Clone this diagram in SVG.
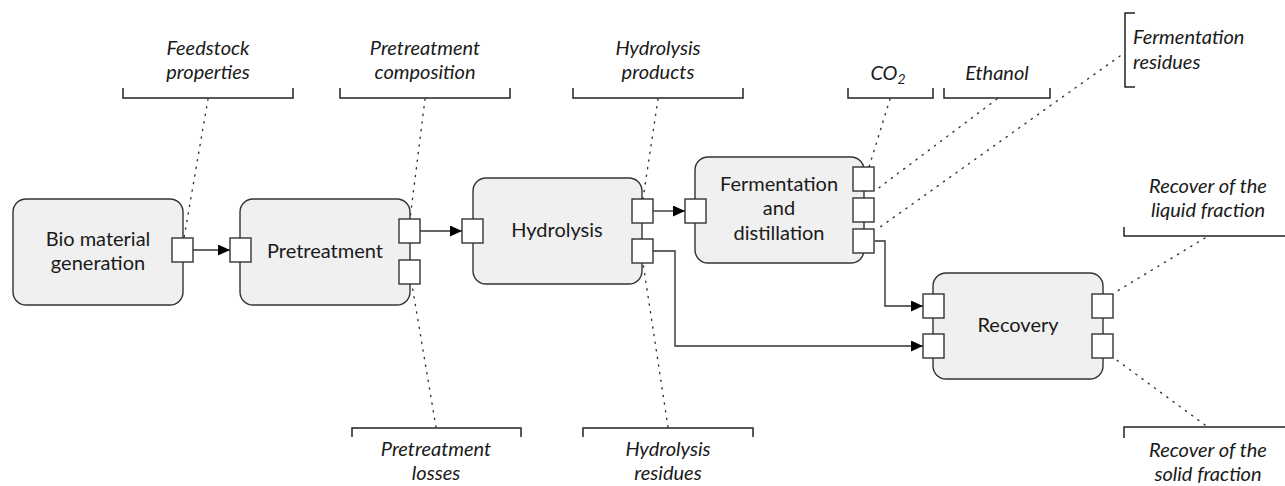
<svg xmlns="http://www.w3.org/2000/svg" width="1285" height="486" viewBox="0 0 1285 486">
<style>
text{font-family:Lato,"Liberation Sans",sans-serif;font-size:20px;fill:#1a1a1a}
.lbl{font-style:italic;text-anchor:middle}
.ll{font-style:italic;text-anchor:start}
.nt{text-anchor:middle}
.box{fill:#f0f0f0;stroke:#333;stroke-width:1.4}
.port{fill:#fff;stroke:#333;stroke-width:1.4}
.br{fill:none;stroke:#222;stroke-width:1.5}
.dot{fill:none;stroke:#333;stroke-width:1.4;stroke-dasharray:1.2 6.5;stroke-linecap:round}
.con{fill:none;stroke:#333;stroke-width:1.4}
</style>
<defs>
<marker id="arr" viewBox="0 0 12 11" refX="12" refY="5.5" markerWidth="12" markerHeight="11" markerUnits="userSpaceOnUse" orient="auto">
<path d="M0,0 L12,5.5 L0,11 Z" fill="#000"/>
</marker>
</defs>

<g id="annotations">
<g id="feedstock">
<text class="lbl" x="208" y="55">Feedstock</text>
<text class="lbl" x="208" y="79">properties</text>
<path class="br" d="M123 88 V98 H293 V88"/>
<path class="dot" d="M208 99 L184 238"/>
</g>
<g id="pretreat-comp">
<text class="lbl" x="425" y="55">Pretreatment</text>
<text class="lbl" x="425" y="79">composition</text>
<path class="br" d="M340 88 V98 H510 V88"/>
<path class="dot" d="M425 99 L410 219"/>
</g>
<g id="hydro-prod">
<text class="lbl" x="658" y="55">Hydrolysis</text>
<text class="lbl" x="658" y="79">products</text>
<path class="br" d="M573 88 V98 H743 V88"/>
<path class="dot" d="M658 99 L643 199"/>
</g>
<g id="co2">
<text class="lbl" x="888" y="80">CO<tspan font-size="14" dy="4">2</tspan></text>
<path class="br" d="M848 88 V98 H933 V88"/>
<path class="dot" d="M890 99 L869 167"/>
</g>
<g id="ethanol">
<text class="lbl" x="997" y="80">Ethanol</text>
<path class="br" d="M944 88 V98 H1050 V88"/>
<path class="dot" d="M997 99 L876 190"/>
</g>
<g id="ferm-res">
<text class="ll" x="1133" y="44">Fermentation</text>
<text class="ll" x="1133" y="69">residues</text>
<path class="br" d="M1135 13 H1125 V87 H1135"/>
<path class="dot" d="M1120 56 L876 230"/>
</g>
<g id="liquid">
<text class="lbl" x="1208" y="193">Recover of the</text>
<text class="lbl" x="1208" y="217">liquid fraction</text>
<path class="br" d="M1124 227 V236 H1290"/>
<path class="dot" d="M1205 238 L1114 293"/>
</g>
<g id="solid">
<text class="lbl" x="1208" y="457">Recover of the</text>
<text class="lbl" x="1208" y="481">solid fraction</text>
<path class="br" d="M1124 438 V427 H1290"/>
<path class="dot" d="M1205 425 L1114 358"/>
</g>
<g id="pretreat-loss">
<text class="lbl" x="436" y="456">Pretreatment</text>
<text class="lbl" x="436" y="480">losses</text>
<path class="br" d="M352 437 V428 H521 V437"/>
<path class="dot" d="M436 427 L412 285"/>
</g>
<g id="hydro-res">
<text class="lbl" x="668" y="456">Hydrolysis</text>
<text class="lbl" x="668" y="480">residues</text>
<path class="br" d="M583 437 V428 H753 V437"/>
<path class="dot" d="M668 427 L643 263"/>
</g>
</g>

<g id="connectors">
<path class="con" d="M193 250 H230" marker-end="url(#arr)"/>
<path class="con" d="M420 231 H462" marker-end="url(#arr)"/>
<path class="con" d="M653 211 H685" marker-end="url(#arr)"/>
<path class="con" d="M875 241 H885 V306 H923" marker-end="url(#arr)"/>
<path class="con" d="M653 251 H675 V346 H923" marker-end="url(#arr)"/>
</g>

<g id="bio">
<rect class="box" x="13" y="199" width="170" height="106" rx="13"/>
<text class="nt" x="98" y="246">Bio material</text>
<text class="nt" x="98" y="270">generation</text>
<rect class="port" x="172" y="238" width="21" height="24"/>
</g>
<g id="pretreatment">
<rect class="box" x="240" y="199" width="170" height="106" rx="13"/>
<text class="nt" x="325" y="258">Pretreatment</text>
<rect class="port" x="230" y="238" width="21" height="24"/>
<rect class="port" x="399" y="219" width="21" height="24"/>
<rect class="port" x="399" y="260" width="21" height="24"/>
</g>
<g id="hydrolysis">
<rect class="box" x="473" y="178" width="169" height="106" rx="13"/>
<text class="nt" x="557" y="237">Hydrolysis</text>
<rect class="port" x="462" y="219" width="21" height="24"/>
<rect class="port" x="632" y="199" width="21" height="24"/>
<rect class="port" x="632" y="239" width="21" height="24"/>
</g>
<g id="fermentation">
<rect class="box" x="695" y="157" width="169" height="106" rx="13"/>
<text class="nt" x="779" y="191">Fermentation</text>
<text class="nt" x="779" y="215">and</text>
<text class="nt" x="779" y="240">distillation</text>
<rect class="port" x="685" y="199" width="21" height="24"/>
<rect class="port" x="853" y="167" width="21" height="24"/>
<rect class="port" x="853" y="198" width="21" height="24"/>
<rect class="port" x="853" y="229" width="21" height="24"/>
</g>
<g id="recovery">
<rect class="box" x="933" y="273" width="170" height="106" rx="13"/>
<text class="nt" x="1018" y="332">Recovery</text>
<rect class="port" x="923" y="294" width="21" height="24"/>
<rect class="port" x="923" y="334" width="21" height="24"/>
<rect class="port" x="1092" y="294" width="21" height="24"/>
<rect class="port" x="1092" y="334" width="21" height="24"/>
</g>
</svg>
